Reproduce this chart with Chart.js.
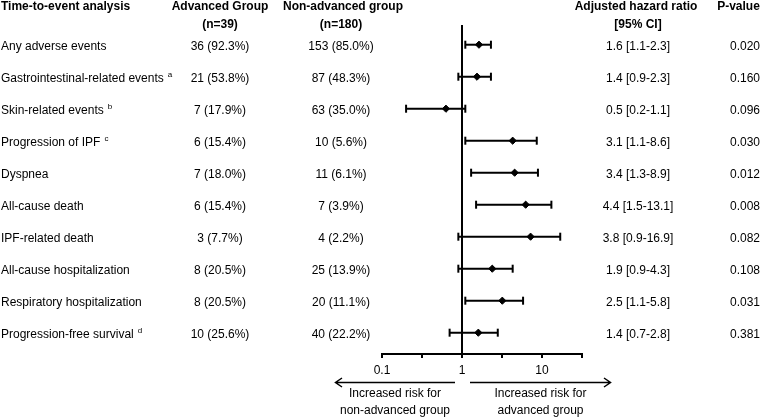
<!DOCTYPE html>
<html><head><meta charset="utf-8">
<script src="https://cdn.jsdelivr.net/npm/chart.js@4.4.1/dist/chart.umd.min.js"></script>
<style>html,body{margin:0;padding:0;background:#fff;overflow:hidden}</style>
</head><body>
<canvas id="c" width="767" height="419"></canvas>
<script>
// ---- data ----
const categories = ['Any adverse events', 'Gastrointestinal-related events', 'Skin-related events', 'Progression of IPF', 'Dyspnea', 'All-cause death', 'IPF-related death', 'All-cause hospitalization', 'Respiratory hospitalization', 'Progression-free survival'];
const footnotes = ['', 'a', 'b', 'c', '', '', '', '', '', 'd'];
const advancedN = [36, 21, 7, 6, 7, 6, 3, 8, 8, 10];
const advancedPct = ['92.3', '53.8', '17.9', '15.4', '18.0', '15.4', '7.7', '20.5', '20.5', '25.6'];
const nonAdvancedN = [153, 87, 63, 10, 11, 7, 4, 25, 20, 40];
const nonAdvancedPct = ['85.0', '48.3', '35.0', '5.6', '6.1', '3.9', '2.2', '13.9', '11.1', '22.2'];
const hazardRatio = ['1.6', '1.4', '0.5', '3.1', '3.4', '4.4', '3.8', '1.9', '2.5', '1.4'];
const ciLow = [1.1, 0.9, 0.2, 1.1, 1.3, 1.5, 0.9, 0.9, 1.1, 0.7];
const ciHigh = [2.3, 2.3, 1.1, 8.6, 8.9, 13.1, 16.9, 4.3, 5.8, 2.8];
const markerPosition = [1.63, 1.54, 0.63, 4.3, 4.55, 6.25, 7.2, 2.39, 3.19, 1.6]; // diamonds as drawn in the figure
const pValues = ['0.020', '0.160', '0.096', '0.030', '0.012', '0.008', '0.082', '0.108', '0.031', '0.381'];
const tickValues = [0.1, 0.316228, 1, 3.16228, 10, 31.6228];
const tickLabels = ['0.1', '', '1', '', '10', ''];
const referenceValue = 1;

const FONT = '"Liberation Sans", Arial, Helvetica, sans-serif';

const ciDatasets = categories.map((c, i) => ({
  type: 'line',
  data: [{x: ciLow[i], y: i}, {x: ciHigh[i], y: i}],
  borderColor: '#000', borderWidth: 2, pointRadius: 0, fill: false
}));

const capsDataset = {
  type: 'scatter',
  data: categories.flatMap((c, i) => [{x: ciLow[i], y: i}, {x: ciHigh[i], y: i}]),
  pointStyle: 'line', rotation: 90, pointRadius: 4, borderColor: '#000', borderWidth: 2
};

const markerDataset = {
  type: 'scatter',
  data: categories.map((c, i) => ({x: markerPosition[i], y: i})),
  pointStyle: 'rectRot', pointRadius: 3.6, backgroundColor: '#000', borderColor: '#000', borderWidth: 1
};

const tablePlugin = {
  id: 'table',
  afterDraw(chart) {
    const ctx = chart.ctx, ys = chart.scales.y, xs = chart.scales.x;
    ctx.save();
    ctx.fillStyle = '#000';
    ctx.strokeStyle = '#000';
    ctx.textBaseline = 'middle';
    // headers
    ctx.font = 'bold 12px ' + FONT;
    ctx.textAlign = 'left';
    ctx.fillText('Time-to-event analysis', 1, 6.5);
    ctx.textAlign = 'center';
    ctx.fillText('Advanced Group', 220, 6.5);
    ctx.fillText('(n=39)', 220, 24.5);
    ctx.fillText('Non-advanced group', 343, 6.5);
    ctx.fillText('(n=180)', 341, 24.5);
    ctx.fillText('Adjusted hazard ratio', 636, 6.5);
    ctx.fillText('[95% CI]', 638, 24.5);
    ctx.fillText('P-value', 738.5, 6.5);
    // rows
    categories.forEach((c, i) => {
      const y = ys.getPixelForValue(i) + 1.5;
      ctx.font = '12px ' + FONT;
      ctx.textAlign = 'left';
      ctx.fillText(c, 1, y);
      if (footnotes[i]) {
        const w = ctx.measureText(c).width;
        ctx.font = '8px ' + FONT;
        ctx.fillText(footnotes[i], 1 + w + 4, y - 3);
        ctx.font = '12px ' + FONT;
      }
      ctx.textAlign = 'center';
      ctx.fillText(advancedN[i] + ' (' + advancedPct[i] + '%)', 220, y);
      ctx.fillText(nonAdvancedN[i] + ' (' + nonAdvancedPct[i] + '%)', 341, y);
      ctx.fillText(hazardRatio[i] + ' [' + ciLow[i] + '-' + ciHigh[i] + ']', 638, y);
      ctx.fillText(pValues[i], 745, y);
    });
    // arrows
    const x1 = xs.getPixelForValue(referenceValue);
    const ay = 382.5;
    ctx.lineWidth = 1.5;
    ctx.beginPath();
    ctx.moveTo(x1 - 7, ay); ctx.lineTo(x1 - 126, ay);
    ctx.moveTo(x1 - 120, ay - 4.5); ctx.lineTo(x1 - 126.5, ay); ctx.lineTo(x1 - 120, ay + 4.5);
    ctx.moveTo(x1 + 8, ay); ctx.lineTo(x1 + 148, ay);
    ctx.moveTo(x1 + 142, ay - 4.5); ctx.lineTo(x1 + 148.5, ay); ctx.lineTo(x1 + 142, ay + 4.5);
    ctx.stroke();
    ctx.font = '12px ' + FONT;
    ctx.textAlign = 'center';
    ctx.fillText('Increased risk for', x1 - 67, 394);
    ctx.fillText('non-advanced group', x1 - 67, 411);
    ctx.fillText('Increased risk for', x1 + 78.5, 394);
    ctx.fillText('advanced group', x1 + 78.5, 411);
    ctx.restore();
  }
};

new Chart(document.getElementById('c'), {
  data: { datasets: [...ciDatasets, capsDataset, markerDataset] },
  options: {
    responsive: false, animation: false, devicePixelRatio: 1,
    layout: { padding: { left: 382, right: 185, top: 25, bottom: 0 } },
    plugins: { legend: { display: false }, tooltip: { enabled: false } },
    scales: {
      x: {
        type: 'logarithmic', position: 'bottom', min: 0.1, max: 31.6228,
        afterBuildTicks: s => { s.ticks = tickValues.map(v => ({ value: v })); },
        afterFit: s => { s.height = 65; },
        border: { display: true, color: '#000', width: 2 },
        grid: {
          drawOnChartArea: true, drawTicks: true, tickLength: 4, tickWidth: 2, tickColor: '#000', lineWidth: 2,
          color: ctx => (ctx.tick && ctx.tick.value === referenceValue) ? '#000' : 'rgba(0,0,0,0)'
        },
        ticks: {
          autoSkip: false, maxRotation: 0, color: '#000', padding: 5,
          font: { size: 12, family: FONT },
          callback: (v, idx) => tickLabels[idx]
        }
      },
      y: { type: 'linear', display: false, min: -0.616, max: 9.666, reverse: true }
    }
  },
  plugins: [tablePlugin]
});
</script>
</body></html>
